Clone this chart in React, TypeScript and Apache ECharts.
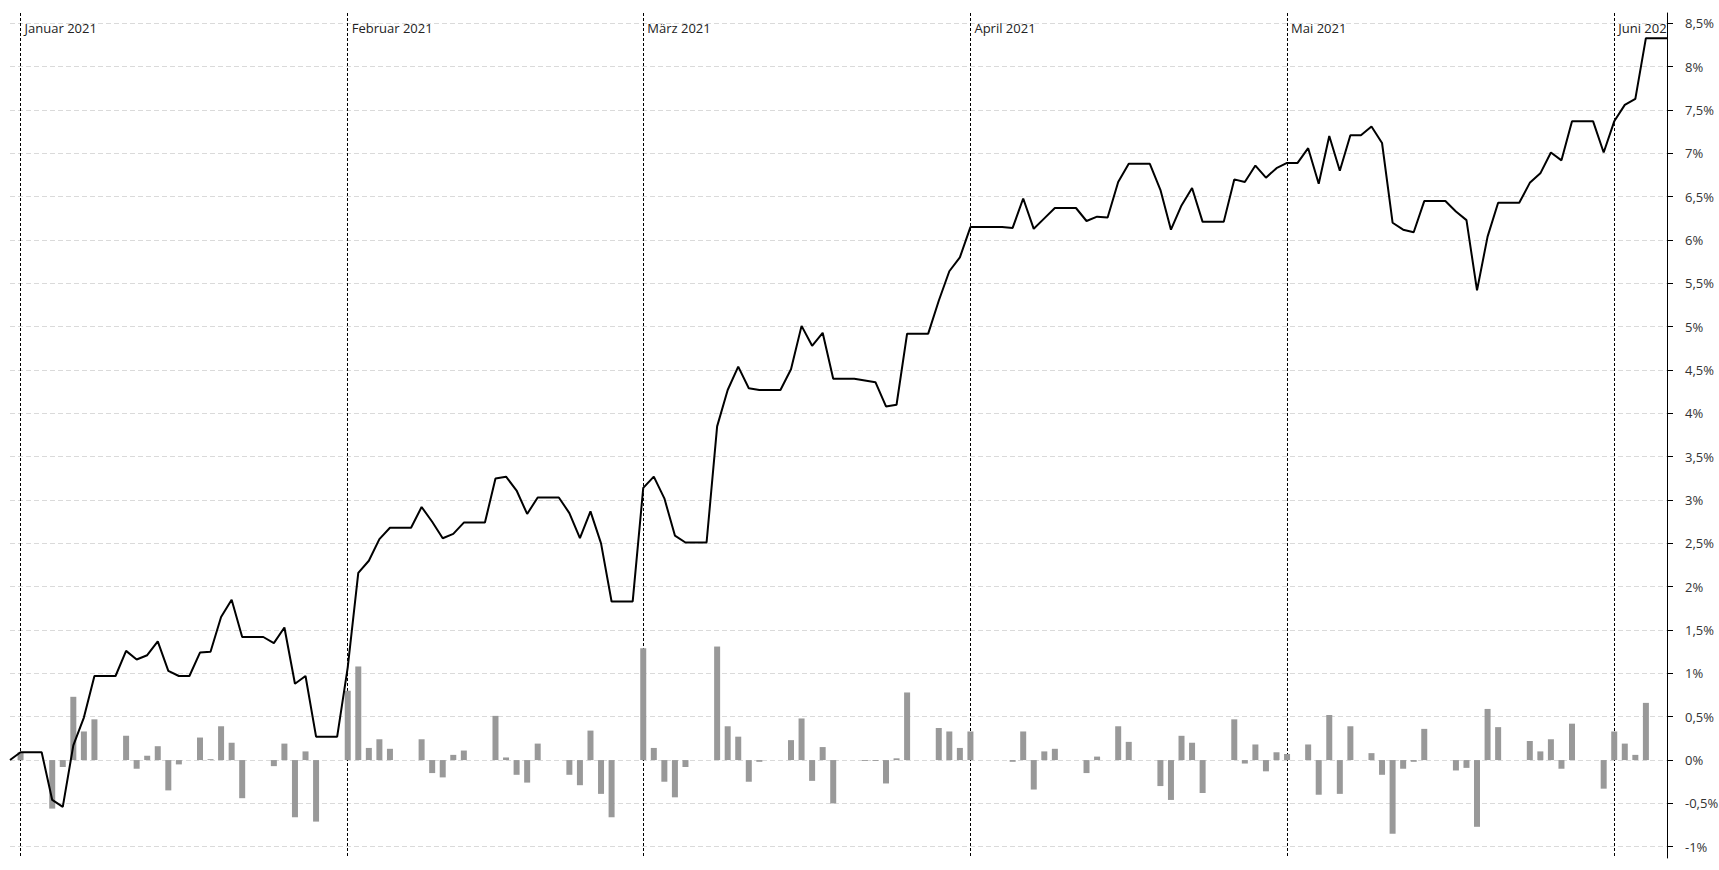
import React, { useEffect, useRef } from "react";
import * as echarts from "echarts";

// ---- data (percent) ----
const START = [2020, 11, 31]; // Dec 31 2020, first point
const END = [2021, 5, 6]; // Jun 6 2021, last point

const MONTH_NAMES = ["Januar", "Februar", "März", "April", "Mai", "Juni"];
const MONTH_STARTS = [
  [2021, 0, 1],
  [2021, 1, 1],
  [2021, 2, 1],
  [2021, 3, 1],
  [2021, 4, 1],
  [2021, 5, 1],
];

const Y_TICKS = [-1, -0.5, 0, 0.5, 1, 1.5, 2, 2.5, 3, 3.5, 4, 4.5, 5, 5.5, 6, 6.5, 7, 7.5, 8, 8.5];

// cumulative performance, one value per calendar day
const lineDec = [0.0];
const lineJan = [0.09, 0.09, 0.09, -0.46, -0.54, 0.17, 0.49, 0.97, 0.97, 0.97, 1.26, 1.16, 1.21, 1.37, 1.03, 0.97, 0.97, 1.24, 1.25, 1.65, 1.85, 1.42, 1.42, 1.42, 1.35, 1.53, 0.88, 0.97, 0.27, 0.27, 0.27];
const lineFeb = [1.07, 2.16, 2.3, 2.55, 2.68, 2.68, 2.68, 2.92, 2.75, 2.56, 2.61, 2.74, 2.74, 2.74, 3.25, 3.27, 3.11, 2.84, 3.03, 3.03, 3.03, 2.85, 2.56, 2.87, 2.5, 1.83, 1.83, 1.83];
const lineMar = [3.14, 3.27, 3.02, 2.59, 2.51, 2.51, 2.51, 3.85, 4.27, 4.54, 4.29, 4.27, 4.27, 4.27, 4.51, 5.01, 4.78, 4.93, 4.4, 4.4, 4.4, 4.38, 4.36, 4.08, 4.1, 4.92, 4.92, 4.92, 5.3, 5.64, 5.8];
const lineApr = [6.15, 6.15, 6.15, 6.15, 6.14, 6.48, 6.13, 6.25, 6.37, 6.37, 6.37, 6.22, 6.27, 6.26, 6.67, 6.88, 6.88, 6.88, 6.58, 6.12, 6.4, 6.6, 6.21, 6.21, 6.21, 6.7, 6.67, 6.86, 6.72, 6.83];
const lineMay = [6.89, 6.89, 7.06, 6.65, 7.2, 6.8, 7.21, 7.21, 7.31, 7.12, 6.2, 6.12, 6.09, 6.45, 6.45, 6.45, 6.33, 6.23, 5.42, 6.04, 6.43, 6.43, 6.43, 6.66, 6.77, 7.01, 6.92, 7.37, 7.37, 7.37, 7.01];
const lineJun = [7.37, 7.56, 7.63, 8.33, 8.33, 8.33];

// daily change, one value per calendar day
const barDec = [0];
const barJan = [0.09, 0, 0, -0.56, -0.08, 0.73, 0.33, 0.47, 0, 0, 0.28, -0.1, 0.05, 0.16, -0.35, -0.05, 0, 0.26, 0.01, 0.39, 0.2, -0.44, 0, 0, -0.07, 0.19, -0.66, 0.1, -0.71, 0, 0];
const barFeb = [0.8, 1.08, 0.14, 0.24, 0.13, 0, 0, 0.24, -0.15, -0.2, 0.06, 0.11, 0, 0, 0.51, 0.03, -0.17, -0.26, 0.19, 0, 0, -0.17, -0.29, 0.34, -0.39, -0.66, 0, 0];
const barMar = [1.29, 0.14, -0.25, -0.43, -0.08, 0, 0, 1.31, 0.39, 0.27, -0.25, -0.02, 0, 0, 0.23, 0.48, -0.24, 0.15, -0.5, 0, 0, -0.01, -0.01, -0.27, 0.02, 0.78, 0, 0, 0.37, 0.33, 0.14];
const barApr = [0.33, 0, 0, 0, -0.02, 0.33, -0.34, 0.1, 0.13, 0, 0, -0.15, 0.04, 0, 0.39, 0.21, 0, 0, -0.3, -0.46, 0.28, 0.2, -0.38, 0, 0, 0.47, -0.04, 0.18, -0.13, 0.09];
const barMay = [0.07, 0, 0.18, -0.4, 0.52, -0.39, 0.39, 0, 0.08, -0.17, -0.85, -0.1, -0.02, 0.36, 0, 0, -0.12, -0.09, -0.77, 0.59, 0.38, 0, 0, 0.22, 0.1, 0.24, -0.1, 0.42, 0, 0, -0.33];
const barJun = [0.33, 0.19, 0.06, 0.66, 0, 0];

const LINE_VALUES = [...lineDec, ...lineJan, ...lineFeb, ...lineMar, ...lineApr, ...lineMay, ...lineJun];
const BAR_VALUES = [...barDec, ...barJan, ...barFeb, ...barMar, ...barApr, ...barMay, ...barJun];

const ts = (a: number[]) => new Date(a[0], a[1], a[2]).getTime();

function dayList(count: number): number[] {
  const out: number[] = [];
  for (let i = 0; i < count; i++) {
    out.push(new Date(START[0], START[1], START[2] + i).getTime());
  }
  return out;
}

const fmtPct = (v: number) => String(v).replace(".", ",") + "%";

const FONT = "'Open Sans', 'Noto Sans', sans-serif";

export default function App() {
  const ref = useRef<HTMLDivElement>(null);

  useEffect(() => {
    if (!ref.current) return;
    const chart = echarts.init(ref.current, undefined, { renderer: "svg" });
    const days = dayList(LINE_VALUES.length);
    const lineData = days.map((t, i) => [t, LINE_VALUES[i]]);
    const barData = days.map((t, i) => [t, BAR_VALUES[i]]);
    const monthTs = MONTH_STARTS.map(ts);
    const minT = ts(START);
    const maxT = ts(END);
    const labelFmt = (v: number) => {
      const d = new Date(v);
      return MONTH_NAMES[d.getMonth()] + " " + d.getFullYear();
    };

    chart.setOption({
      animation: false,
      backgroundColor: "#ffffff",
      textStyle: { fontFamily: FONT },
      grid: {
        left: 10,
        right: 52,
        top: 13,
        bottom: 12,
        containLabel: false,
        outerBoundsMode: "none",
      },
      xAxis: [
        {
          type: "value",
          position: "top",
          min: minT,
          max: maxT,
          scale: true,
          axisLine: { show: false },
          axisTick: { show: false, customValues: monthTs },
          splitLine: {
            show: true,
            lineStyle: { color: "#000000", width: 1, type: [3, 2] },
          },
          axisLabel: {
            show: true,
            inside: true,
            customValues: monthTs.slice(0, 5),
            formatter: labelFmt,
            align: "left",
            padding: [0, 0, 0, 4],
            margin: 8,
            color: "#222222",
            fontSize: 13,
            fontFamily: FONT,
          },
        },
        {
          type: "value",
          position: "top",
          min: minT,
          max: maxT,
          scale: true,
          axisLine: { show: false },
          axisTick: { show: false, customValues: monthTs.slice(5) },
          splitLine: { show: false },
          axisLabel: {
            show: true,
            inside: true,
            customValues: monthTs.slice(5),
            formatter: labelFmt,
            align: "left",
            padding: [0, 0, 0, 4],
            margin: 8,
            width: 53,
            overflow: "truncate",
            ellipsis: "",
            color: "#222222",
            fontSize: 13,
            fontFamily: FONT,
          },
        },
      ],
      yAxis: {
        type: "value",
        position: "right",
        min: -1.13,
        max: 8.62,
        minInterval: 0.5,
        maxInterval: 0.5,
        axisLine: { show: true, lineStyle: { color: "#000000", width: 1 } },
        axisTick: {
          show: true,
          length: 6,
          customValues: Y_TICKS,
          lineStyle: { color: "#000000" },
        },
        axisLabel: {
          customValues: Y_TICKS,
          formatter: fmtPct,
          margin: 18,
          color: "#333333",
          fontSize: 13,
          fontFamily: FONT,
        },
        splitLine: {
          show: true,
          lineStyle: { color: "#dadada", width: 1, type: [5, 3] },
        },
      },
      series: [
        {
          type: "bar",
          xAxisIndex: 0,
          data: barData,
          barWidth: 6,
          itemStyle: { color: "#999999" },
          z: 2,
        },
        {
          type: "line",
          xAxisIndex: 0,
          data: lineData,
          showSymbol: false,
          symbol: "none",
          lineStyle: { color: "#000000", width: 2 },
          z: 3,
        },
      ],
    });
    return () => chart.dispose();
  }, []);

  return (
    <div
      ref={ref}
      style={{ position: "absolute", left: 0, top: 0, width: "1719px", height: "870px" }}
    />
  );
}
